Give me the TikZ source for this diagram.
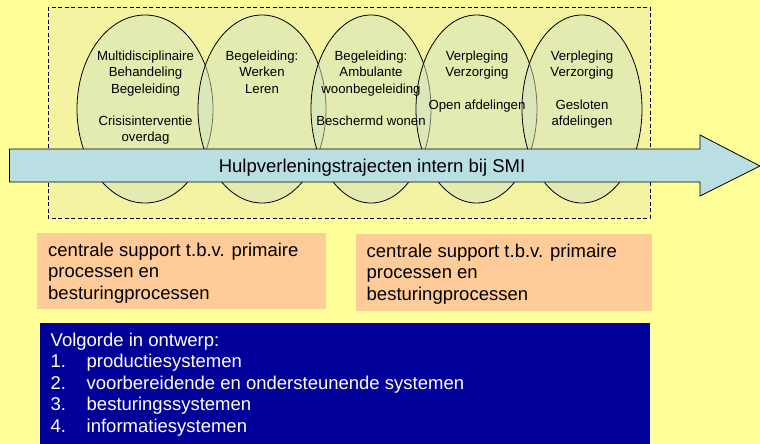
\documentclass[tikz,border=0pt]{standalone}
\usepackage{fontspec}
\setmainfont{Liberation Sans}
\usetikzlibrary{shapes.geometric}

\definecolor{pagebg}{HTML}{FFFF99}
\definecolor{zonefill}{HTML}{F3F3A1}
\definecolor{phasefill}{HTML}{D4E4C0}
\definecolor{arrowfill}{HTML}{B9DFE3}
\definecolor{supportfill}{HTML}{FFCC99}
\definecolor{orderfill}{HTML}{000099}

\newcommand\phasefont{\fontsize{13.2}{16.2}\selectfont}
\newcommand\mainfont{\fontsize{18.5}{21.5}\selectfont}

\begin{document}
\begin{tikzpicture}[x=1pt,y=-1pt,
  zone/.style={draw=black,line width=0.8pt,dash pattern=on 4pt off 2.5pt,fill=zonefill},
  phase/.style={ellipse,draw=black,line width=0.8pt,fill=phasefill,fill opacity=0.5,
    draw opacity=1,inner sep=0pt,minimum height=188pt},
  phasetext/.style={anchor=north,inner sep=0pt,align=center,font=\phasefont,text=black},
  flow/.style={draw=black,line width=0.8pt,fill=arrowfill},
  supportbox/.style={fill=supportfill,inner sep=0pt,anchor=north west},
  boxtext/.style={inner sep=0pt,anchor=north west,align=left,font=\mainfont},
  orderbox/.style={fill=orderfill,inner sep=0pt,anchor=north west,
    minimum width=610pt,minimum height=121pt}]

% page background and frame
\fill[pagebg] (0,0) rectangle (760,444);
\useasboundingbox (0,0) rectangle (760,444);

% dashed zone holding the care phases
\path[zone] (48,7) rectangle (650,218);

% care phases
\node[phase,minimum width=136pt] (p1) at (145,109) {};
\node[phase,minimum width=128pt] (p2) at (262,109) {};
\node[phase,minimum width=120pt] (p3) at (371,109) {};
\node[phase,minimum width=121pt] (p4) at (476.5,109) {};
\node[phase,minimum width=120pt] (p5) at (582,109) {};

\node[phasetext] (t1) at (145.5,51) {Multidisciplinaire\\Behandeling\\Begeleiding\\[16.2pt]Crisisinterventie\\overdag};
\node[phasetext] (t2) at (262,51) {Begeleiding:\\Werken\\Leren};
\node[phasetext] (t3) at (371,51) {Begeleiding:\\Ambulante\\woonbegeleiding\\[16.2pt]Beschermd wonen};
\node[phasetext] (t4) at (477,51) {Verpleging\\Verzorging\\[16.2pt]Open afdelingen};
\node[phasetext] (t5) at (582,51) {Verpleging\\Verzorging\\[16.2pt]Gesloten\\afdelingen};

% trajectory arrow
\path[flow] (9.5,149) -- (700,149) -- (700,135) -- (760,166) -- (700,196) -- (700,182)
  -- (9.5,182) -- cycle;
\node[anchor=base,inner sep=0pt,font=\mainfont] (flowlabel) at (372,172.5)
  {Hulpverleningstrajecten intern bij SMI};

% central support boxes
\node[supportbox,minimum width=289pt,minimum height=76pt] (s1) at (37,233) {};
\node[boxtext] (s1t) at (48,242.7) {centrale support t.b.v. primaire\\processen en\\besturingprocessen};
\node[supportbox,minimum width=296pt,minimum height=77pt] (s2) at (356,233.5) {};
\node[boxtext] (s2t) at (366.5,243.5) {centrale support t.b.v. primaire\\processen en\\besturingprocessen};

% design order
\node[orderbox] (order) at (40,323) {};
\node[boxtext,text=white] (ordert) at (50.5,332.7) {Volgorde in ontwerp:\\
  \makebox[36pt][l]{1.}productiesystemen\\
  \makebox[36pt][l]{2.}voorbereidende en ondersteunende systemen\\
  \makebox[36pt][l]{3.}besturingssystemen\\
  \makebox[36pt][l]{4.}informatiesystemen};
\end{tikzpicture}
\end{document}
